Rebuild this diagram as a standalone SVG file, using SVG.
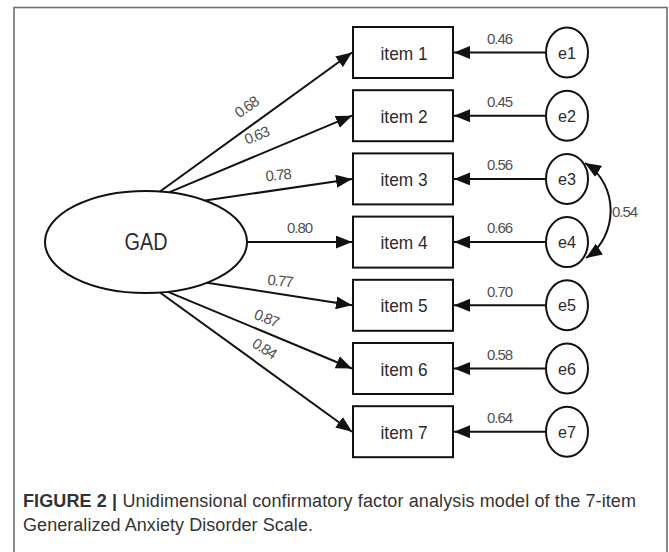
<svg xmlns="http://www.w3.org/2000/svg" width="669" height="552" viewBox="0 0 669 552">
  <style>
    .frame { fill: none; stroke: #6e6e6e; stroke-width: 1.6; }
    .shape { fill: #fff; stroke: #111; stroke-width: 2; }
    .edge { fill: none; stroke: #111; stroke-width: 2; }
    .lbl { font-family: "Liberation Sans", Arial, sans-serif; fill: #2b2b2b; text-anchor: middle; }
    .item { font-size: 19px; }
    .err { font-size: 17px; }
    .num { font-family: "Liberation Sans", Arial, sans-serif; font-size: 15px; fill: #505050; text-anchor: middle; }
    .cap { font-family: "Liberation Sans", Arial, sans-serif; font-size: 18px; fill: #333; }
  </style>
  <defs>
    <marker id="arrow" markerUnits="userSpaceOnUse" markerWidth="17" markerHeight="13" refX="16" refY="6.5" orient="auto-start-reverse">
      <path d="M0,0 L16,6.5 L0,13 z" fill="#111"/>
    </marker>
  </defs>

  <!-- figure frame (open at the bottom) -->
  <rect class="frame" x="14" y="7.5" width="653" height="560"/>

  <!-- connectors -->
  <g id="connectors">
    <!-- factor loadings -->
    <line class="edge" x1="160" y1="191.5" x2="352" y2="52.5" marker-end="url(#arrow)"/>
    <line class="edge" x1="169" y1="192.3" x2="352" y2="115.7" marker-end="url(#arrow)"/>
    <line class="edge" x1="205" y1="200.6" x2="352" y2="178.9" marker-end="url(#arrow)"/>
    <line class="edge" x1="247" y1="242.1" x2="352" y2="242.1" marker-end="url(#arrow)"/>
    <line class="edge" x1="207" y1="282.7" x2="352" y2="305.3" marker-end="url(#arrow)"/>
    <line class="edge" x1="168" y1="291.8" x2="352" y2="368.5" marker-end="url(#arrow)"/>
    <line class="edge" x1="160" y1="292.5" x2="352" y2="431.7" marker-end="url(#arrow)"/>
    <!-- error terms -->
    <line class="edge" x1="546" y1="52.5" x2="454" y2="52.5" marker-end="url(#arrow)"/>
    <line class="edge" x1="546" y1="115.7" x2="454" y2="115.7" marker-end="url(#arrow)"/>
    <line class="edge" x1="546" y1="178.9" x2="454" y2="178.9" marker-end="url(#arrow)"/>
    <line class="edge" x1="546" y1="242.1" x2="454" y2="242.1" marker-end="url(#arrow)"/>
    <line class="edge" x1="546" y1="305.3" x2="454" y2="305.3" marker-end="url(#arrow)"/>
    <line class="edge" x1="546" y1="368.5" x2="454" y2="368.5" marker-end="url(#arrow)"/>
    <line class="edge" x1="546" y1="431.7" x2="454" y2="431.7" marker-end="url(#arrow)"/>
    <!-- covariance e3 <-> e4 -->
    <path class="edge" d="M585,163 C619,184 619,236 586,258" marker-start="url(#arrow)" marker-end="url(#arrow)"/>

    <!-- loading values -->
    <text class="num" transform="translate(250,111) rotate(-35)" textLength="26">0.68</text>
    <text class="num" transform="translate(259,140) rotate(-22)" textLength="26">0.63</text>
    <text class="num" transform="translate(279,180) rotate(-5)" textLength="26">0.78</text>
    <text class="num" x="300" y="233" textLength="26">0.80</text>
    <text class="num" transform="translate(280,286) rotate(6)" textLength="26">0.77</text>
    <text class="num" transform="translate(265,323) rotate(22)" textLength="26">0.87</text>
    <text class="num" transform="translate(262,353) rotate(33)" textLength="26">0.84</text>
    <text class="num" x="500" y="44" textLength="26">0.46</text>
    <text class="num" x="500" y="107" textLength="26">0.45</text>
    <text class="num" x="500" y="170" textLength="26">0.56</text>
    <text class="num" x="500" y="233" textLength="26">0.66</text>
    <text class="num" x="500" y="297" textLength="26">0.70</text>
    <text class="num" x="500" y="360" textLength="26">0.58</text>
    <text class="num" x="500" y="423" textLength="26">0.64</text>
    <text class="num" x="625" y="217" textLength="26">0.54</text>
  </g>

  <!-- latent factor -->
  <g id="GAD">
    <ellipse class="shape" cx="146" cy="242" rx="101" ry="51"/>
    <text class="lbl" x="146" y="250" font-size="23" textLength="43" lengthAdjust="spacingAndGlyphs">GAD</text>
  </g>

  <!-- observed items -->
  <g id="item1"><rect class="shape" x="353" y="27" width="100" height="51"/><text class="lbl item" x="404" y="59.5" textLength="47" lengthAdjust="spacingAndGlyphs">item 1</text></g>
  <g id="item2"><rect class="shape" x="353" y="90.2" width="100" height="51"/><text class="lbl item" x="404" y="122.7" textLength="47" lengthAdjust="spacingAndGlyphs">item 2</text></g>
  <g id="item3"><rect class="shape" x="353" y="153.4" width="100" height="51"/><text class="lbl item" x="404" y="185.9" textLength="47" lengthAdjust="spacingAndGlyphs">item 3</text></g>
  <g id="item4"><rect class="shape" x="353" y="216.6" width="100" height="51"/><text class="lbl item" x="404" y="249.1" textLength="47" lengthAdjust="spacingAndGlyphs">item 4</text></g>
  <g id="item5"><rect class="shape" x="353" y="279.8" width="100" height="51"/><text class="lbl item" x="404" y="312.3" textLength="47" lengthAdjust="spacingAndGlyphs">item 5</text></g>
  <g id="item6"><rect class="shape" x="353" y="343" width="100" height="51"/><text class="lbl item" x="404" y="375.5" textLength="47" lengthAdjust="spacingAndGlyphs">item 6</text></g>
  <g id="item7"><rect class="shape" x="353" y="406.2" width="100" height="51"/><text class="lbl item" x="404" y="438.7" textLength="47" lengthAdjust="spacingAndGlyphs">item 7</text></g>

  <!-- error terms -->
  <g id="e1"><ellipse class="shape" cx="567" cy="52.5" rx="21" ry="25"/><text class="lbl err" x="567" y="58.5" textLength="18" lengthAdjust="spacingAndGlyphs">e1</text></g>
  <g id="e2"><ellipse class="shape" cx="567" cy="115.7" rx="21" ry="25"/><text class="lbl err" x="567" y="121.7" textLength="18" lengthAdjust="spacingAndGlyphs">e2</text></g>
  <g id="e3"><ellipse class="shape" cx="567" cy="178.9" rx="21" ry="25"/><text class="lbl err" x="567" y="184.9" textLength="18" lengthAdjust="spacingAndGlyphs">e3</text></g>
  <g id="e4"><ellipse class="shape" cx="567" cy="242.1" rx="21" ry="25"/><text class="lbl err" x="567" y="248.1" textLength="18" lengthAdjust="spacingAndGlyphs">e4</text></g>
  <g id="e5"><ellipse class="shape" cx="567" cy="305.3" rx="21" ry="25"/><text class="lbl err" x="567" y="311.3" textLength="18" lengthAdjust="spacingAndGlyphs">e5</text></g>
  <g id="e6"><ellipse class="shape" cx="567" cy="368.5" rx="21" ry="25"/><text class="lbl err" x="567" y="374.5" textLength="18" lengthAdjust="spacingAndGlyphs">e6</text></g>
  <g id="e7"><ellipse class="shape" cx="567" cy="431.7" rx="21" ry="25"/><text class="lbl err" x="567" y="437.7" textLength="18" lengthAdjust="spacingAndGlyphs">e7</text></g>

  <!-- caption -->
  <text class="cap" x="23" y="507" textLength="613"><tspan font-weight="bold">FIGURE 2 |</tspan> Unidimensional confirmatory factor analysis model of the 7-item</text>
  <text class="cap" x="23" y="531" textLength="290">Generalized Anxiety Disorder Scale.</text>
</svg>
